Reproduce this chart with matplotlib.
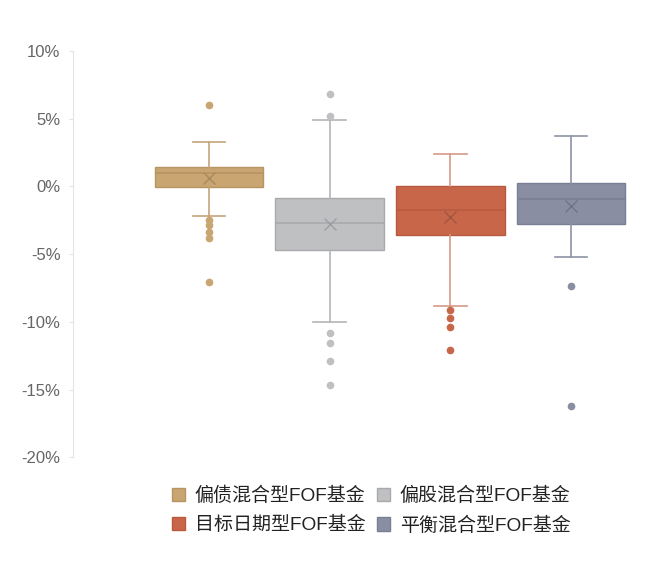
import matplotlib
matplotlib.use("Agg")
import matplotlib.pyplot as plt
from matplotlib.patches import Patch

plt.rcParams['font.family'] = ['Liberation Sans', 'Noto Sans CJK SC', 'DejaVu Sans']

# fund categories
labels = ["偏债混合型FOF基金", "偏股混合型FOF基金", "目标日期型FOF基金", "平衡混合型FOF基金"]

# box statistics (%)
whislo = [-2.19, -9.98, -8.82, -5.20]
q1 = [-0.07, -4.68, -3.57, -2.76]
med = [1.01, -2.71, -1.75, -0.96]
q3 = [1.43, -0.86, 0.02, 0.27]
whishi = [3.27, 4.88, 2.39, 3.74]
means = [0.62, -2.81, -2.24, -1.46]
fliers = [
    [5.99, -2.51, -2.88, -3.33, -3.79, -7.05],
    [6.85, 5.22, -10.8, -11.6, -12.88, -14.66],
    [-9.11, -9.73, -10.35, -12.1],
    [-7.32, -16.2],
]

fill = ["#C9A571", "#BFC0C2", "#C8664A", "#898EA3"]
edge = ["#B89462", "#A9AAAD", "#B85A40", "#7A7F94"]
whisk = ["#C4A47A", "#B4B5B8", "#D49A88", "#8E93A6"]
mark = ["#A88A5E", "#9E9FA3", "#A35440", "#6F7488"]

stats = []
for i in range(4):
    stats.append(dict(whislo=whislo[i], q1=q1[i], med=med[i], q3=q3[i],
                      whishi=whishi[i], mean=means[i], fliers=fliers[i]))

fig = plt.figure(figsize=(6.49, 5.61), dpi=100)
ax = fig.add_axes([0.1125, 0.185, 0.87, 0.724])

positions = [1, 2, 3, 4]
for i in range(4):
    ax.bxp([stats[i]], positions=[positions[i]], widths=0.9, capwidths=0.27,
           patch_artist=True, showmeans=True, showfliers=True,
           boxprops=dict(facecolor=fill[i], edgecolor=edge[i], linewidth=1.0),
           medianprops=dict(color=edge[i], linewidth=1.2),
           whiskerprops=dict(color=whisk[i], linewidth=1.2),
           capprops=dict(color=whisk[i], linewidth=1.2),
           meanprops=dict(marker='x', markeredgecolor=mark[i], markersize=9,
                          markeredgewidth=1.0),
           flierprops=dict(marker='o', markerfacecolor=fill[i], markeredgecolor=fill[i],
                           markersize=4.5))

ax.set_xlim(-0.127, 4.551)
ax.set_ylim(-20, 10)
ax.set_yticks([10, 5, 0, -5, -10, -15, -20])
ax.set_yticklabels([f"{t}%" for t in [10, 5, 0, -5, -10, -15, -20]])
ax.set_xticks([])
for s in ["top", "right", "bottom"]:
    ax.spines[s].set_visible(False)
ax.spines["left"].set_color("#E3E3E3")
ax.tick_params(axis='y', colors="#E3E3E3", labelcolor="#666666", labelsize=12,
               length=3, pad=6)

# legend goes row by row: 偏债, 偏股 / 目标日期, 平衡
order = [0, 2, 1, 3]
handles = [Patch(facecolor=fill[i], edgecolor=edge[i], label=labels[i]) for i in order]
fig.legend(handles=handles, loc="center", bbox_to_anchor=(0.572, 0.09), ncol=2,
           frameon=False, fontsize=13.7, handlelength=0.7, handleheight=0.7,
           handletextpad=0.5, columnspacing=0.6, labelspacing=0.6,
           labelcolor="#222222")

fig.savefig("out.png", dpi=100)
